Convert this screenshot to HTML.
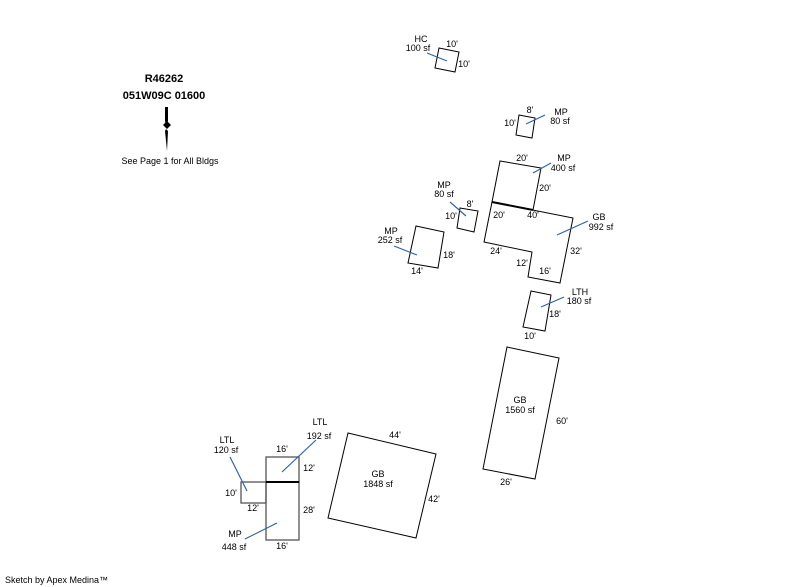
<!DOCTYPE html>
<html><head><meta charset="utf-8"><style>
html,body{margin:0;padding:0;background:#fff;}
svg{display:block;}
text{font-family:"Liberation Sans",sans-serif;font-size:9px;fill:#000;}
.b{font-weight:bold;font-size:11px;}
</style></head><body>
<svg width="800" height="587" viewBox="0 0 800 587" xmlns="http://www.w3.org/2000/svg">
<g fill="none" stroke="#000" stroke-width="1">
<polygon points="439,48 459,52 455,72 435,68"/>
<polygon points="519,115 535,118 532,138 516,135"/>
<polygon points="500,161 541,168 533,210 492,202"/>
<polygon points="492,202 573,218 560,283 528,277 532,252 484,242"/>
<polygon points="460,208 478,211 474,232 457,228"/>
<polygon points="416,226 444,232 438,268 408,263"/>
<polygon points="531,291 551,295 545,331 523,327"/>
<polygon points="507,347 559,358 535,479 483,469"/>
<polygon points="348,433 436,454 416,538 328,518"/>
</g>
<g fill="none" stroke="#555" stroke-width="1.3">
<rect x="266" y="457" width="33" height="25"/>
<rect x="266" y="482" width="33" height="58"/>
<rect x="241" y="482" width="25" height="21"/>
</g>
<line x1="492" y1="202" x2="533" y2="210" stroke="#000" stroke-width="2"/>
<line x1="266" y1="482" x2="299" y2="482" stroke="#000" stroke-width="2"/>
<g stroke="#2e64a8" stroke-width="1.2">
<line x1="427" y1="53" x2="447" y2="61"/>
<line x1="526" y1="124" x2="545" y2="115"/>
<line x1="533" y1="173" x2="551" y2="163"/>
<line x1="557" y1="235" x2="588" y2="221"/>
<line x1="450" y1="202" x2="466" y2="216"/>
<line x1="394" y1="246" x2="417" y2="255"/>
<line x1="541" y1="307" x2="564" y2="297"/>
<line x1="282" y1="472" x2="316" y2="440"/>
<line x1="230" y1="457" x2="247" y2="491"/>
<line x1="245" y1="539" x2="277" y2="523"/>
</g>
<g text-anchor="middle">
<text class="b" x="164" y="82">R46262</text>
<text class="b" x="164" y="99">051W09C 01600</text>
<text x="170" y="164">See Page 1 for All Bldgs</text>
<text x="421" y="42">HC</text><text x="418" y="51">100 sf</text>
<text x="452" y="47">10'</text><text x="464" y="67">10'</text>
<text x="530" y="113">8'</text><text x="510" y="126">10'</text>
<text x="561" y="115">MP</text><text x="560" y="124">80 sf</text>
<text x="522" y="161">20'</text><text x="564" y="161">MP</text><text x="563" y="171">400 sf</text>
<text x="545" y="191">20'</text>
<text x="499" y="218">20'</text><text x="533" y="218">40'</text>
<text x="599" y="220">GB</text><text x="601" y="230">992 sf</text>
<text x="576" y="254">32'</text><text x="496" y="254">24'</text>
<text x="522" y="266">12'</text><text x="545" y="274">16'</text>
<text x="444" y="188">MP</text><text x="444" y="197">80 sf</text>
<text x="470" y="207">8'</text><text x="451" y="219">10'</text>
<text x="391" y="234">MP</text><text x="390" y="243">252 sf</text>
<text x="449" y="258">18'</text><text x="417" y="274">14'</text>
<text x="580" y="295">LTH</text><text x="579" y="304">180 sf</text>
<text x="555" y="317">18'</text><text x="530" y="339">10'</text>
<text x="520" y="403">GB</text><text x="520" y="413">1560 sf</text>
<text x="562" y="424">60'</text><text x="506" y="485">26'</text>
<text x="395" y="438">44'</text>
<text x="378" y="477">GB</text><text x="378" y="487">1848 sf</text>
<text x="434" y="502">42'</text>
<text x="320" y="425">LTL</text><text x="319" y="439">192 sf</text>
<text x="282" y="452">16'</text><text x="309" y="471">12'</text>
<text x="227" y="443">LTL</text><text x="226" y="453">120 sf</text>
<text x="231" y="496">10'</text><text x="253" y="511">12'</text>
<text x="309" y="513">28'</text>
<text x="235" y="537">MP</text><text x="234" y="550">448 sf</text>
<text x="282" y="549">16'</text>
</g>
<text x="5" y="583">Sketch by Apex Medina™</text>
<g fill="#000">
<polygon points="165,107 168,107 168,121 166,126 165,121"/>
<polygon points="167,121 171,125 167,129 163,125"/>
<polygon points="166,129 168,131 167,151 165,131"/>
</g>
</svg>
</body></html>
